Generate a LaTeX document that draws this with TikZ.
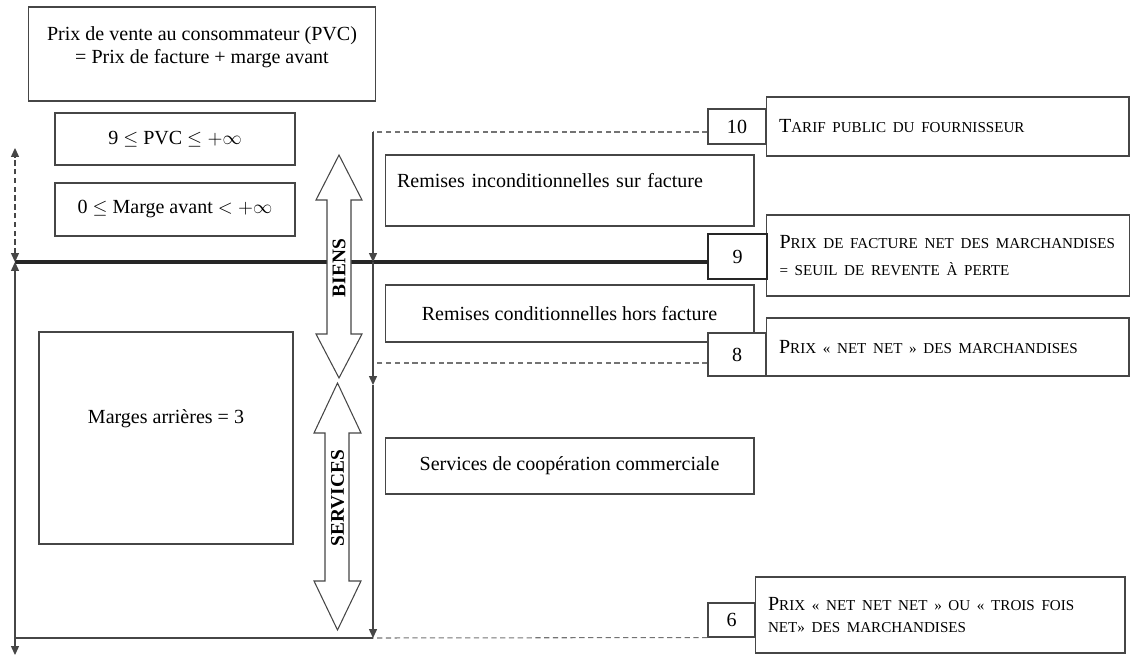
\documentclass[tikz,border=0pt]{standalone}
\usepackage{fontspec}
\setmainfont{Liberation Serif}
\usetikzlibrary{arrows.meta,positioning}
\definecolor{framegray}{RGB}{70,70,70}
\definecolor{dashgray}{RGB}{115,115,115}
\newcommand{\pc}[1]{{\fontsize{8.6}{10}\selectfont #1}}

\begin{document}
\begin{tikzpicture}[
    x=0.02cm,y=-0.02cm,
    font=\fontsize{11.4}{13}\selectfont,
    box/.style={draw=framegray,line width=0.6pt,fill=white,inner sep=0pt,align=center},
    numbox/.style={box,minimum width=1.16cm},
    pricebox/.style={box,align=left,inner xsep=0.26cm,text width=6.74cm},
    arr/.style={-{Triangle[width=4.5pt,length=5pt]},draw=framegray,line width=0.6pt},
    twoarr/.style={{Triangle[width=4.5pt,length=5pt]}-{Triangle[width=4.5pt,length=5pt]},draw=framegray,line width=0.6pt},
    dashline/.style={draw=dashgray,line width=0.6pt,dash pattern=on 3pt off 2pt},
    thickline/.style={draw=black!85,line width=1.8pt},
    bigarrow/.style={draw=framegray,fill=white,line width=0.6pt},
    vlabel/.style={rotate=90,inner sep=0pt,font=\bfseries\fontsize{11}{12}\selectfont}
  ]
    \useasboundingbox (0,0) rectangle (1131,658);
    % left column
    \node[box,minimum width=6.96cm,minimum height=1.88cm] (pvc) at (202,54)
      {Prix de vente au consommateur (PVC)\\= Prix de facture + marge avant\\[-3pt]\mbox{}};
    \node[box,minimum width=4.8cm,minimum height=1.04cm] (ineqpvc) at (175,139)
      {9 $\leq$ PVC $\leq + \infty$};
    \node[box,minimum width=4.8cm,minimum height=1.06cm] (ineqmarge) at (175,209.5)
      {0 $\leq$ Marge avant $< + \infty$};
    \node[box,minimum width=5.08cm,minimum height=4.24cm,text depth=24pt] (arrieres) at (166,438)
      {Marges arrières = 3};
    % middle column
    \node[box,align=left,inner xsep=0.24cm,text width=6.9cm,minimum height=1.42cm,text depth=11pt] (reminc) at (569.5,190.5)
      {Remises inconditionnelles sur facture};
    \node[box,minimum width=7.38cm,minimum height=1.14cm] (remcond) at (569.5,313.5)
      {Remises conditionnelles hors facture};
    \node[box,minimum width=7.38cm,minimum height=1.12cm] (servcoop) at (569.5,466)
      {Services de coopération commerciale};
    % right column
    \node[pricebox,minimum height=1.18cm] (tarif) at (947.5,126.5)
      {T\pc{ARIF PUBLIC DU FOURNISSEUR}};
    \node[pricebox,minimum height=1.62cm] (facture) at (948,255.5)
      {\mbox{P\pc{RIX DE FACTURE NET DES MARCHANDISES}}\\[2pt]\pc{= SEUIL DE REVENTE À PERTE}};
    \node[pricebox,minimum height=1.16cm] (netnet) at (947.5,347)
      {P\pc{RIX « NET NET » DES MARCHANDISES}};
    \node[pricebox,text width=6.88cm,minimum height=1.52cm] (netnetnet) at (940,615)
      {P\pc{RIX « NET NET NET » OU « TROIS FOIS}\\\pc{NET» DES MARCHANDISES}};
    \node[numbox,minimum height=0.7cm] (n10) at (737,126.5) {10};
    \node[numbox,line width=1.6pt,draw=black!85,minimum width=1.18cm,minimum height=0.9cm] (n9) at (737.5,256.5) {9};
    \node[numbox,minimum height=0.86cm] (n8) at (737,354.5) {8};
    \node[numbox,minimum width=0.94cm,minimum height=0.68cm] (n6) at (731.5,620) {6};
    % levels
    \coordinate (lev10) at (373,132);
    \coordinate (lev9) at (373,262);
    \coordinate (lev8) at (373,363);
    \coordinate (arr8) at (373,385);
    \coordinate (lev6) at (373,638);
    \coordinate (left9) at (15,262);
    \coordinate (lefttop) at (15,148);
    \coordinate (leftbot) at (15,655);
    \coordinate (left6) at (15,638);
    \draw[thickline] (left9) -- (n9.west |- left9);
    \draw[dashline] (n10.west |- lev10) -- (lev10);
    \draw[dashline] (n8.west |- lev8) -- (lev8);
    \draw[dashline] (n6.south west) -- (lev6);
    \draw[draw=framegray,line width=0.6pt] (left6) -- (lev6);
    \draw[arr] (lev10) -- (lev9);
    \draw[arr] (lev9) -- (arr8);
    \draw[arr] (arr8) -- (lev6);
    \draw[twoarr,dash pattern=on 3pt off 2pt] (left9) -- (lefttop);
    \draw[twoarr] (left9) -- (leftbot);
    % goods and services
    \draw[bigarrow] (339,155) -- (362,200) -- (351,200) -- (351,334) -- (362,334) -- (339,378)
      -- (316,334) -- (327,334) -- (327,200) -- (316,200) -- cycle;
    \draw[bigarrow] (337.5,383) -- (361,433) -- (349,433) -- (349,581) -- (361,581) -- (337.5,630)
      -- (314,581) -- (325,581) -- (325,433) -- (314,433) -- cycle;
    \node[vlabel] (biens) at (339,268) {BIENS};
    \node[vlabel] (services) at (337.5,498) {SERVICES};
  \end{tikzpicture}
\end{document}
